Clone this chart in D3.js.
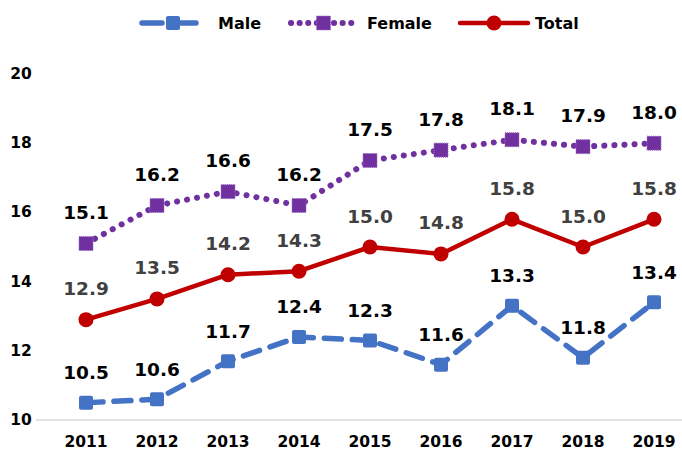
<!DOCTYPE html>
<html><head><meta charset="utf-8">
<script src="https://cdn.jsdelivr.net/npm/d3@7"></script>
<style>body{margin:0;background:#fff}svg{display:block}text{font-family:"DejaVu Sans",sans-serif;font-weight:bold}</style>
</head><body>
<svg id="c" width="682" height="456"></svg>
<script>
const years = ["2011","2012","2013","2014","2015","2016","2017","2018","2019"];
const male = [10.5,10.6,11.7,12.4,12.3,11.6,13.3,11.8,13.4];
const female = [15.1,16.2,16.6,16.2,17.5,17.8,18.1,17.9,18.0];
const total = [12.9,13.5,14.2,14.3,15.0,14.8,15.8,15.0,15.8];
const yTicks = [10,12,14,16,18,20];

const svg = d3.select("#c");
const x = d3.scaleBand().domain(years).range([50.5, 689.5]);
const y = d3.scaleLinear().domain([10,20]).range([420, 74]);
const cx = d => x(d) + x.bandwidth()/2;

svg.append("line").attr("x1",36).attr("x2",682).attr("y1",y(10)).attr("y2",y(10))
  .attr("stroke","#d9d9d9").attr("stroke-width",1.5);

svg.append("g").selectAll("text").data(yTicks).join("text")
  .attr("x",21).attr("y",d=>y(d)).attr("text-anchor","middle").attr("dominant-baseline","central")
  .attr("font-size",15.5).attr("fill","#000").text(d=>d);
svg.append("g").selectAll("text").data(years).join("text")
  .attr("x",d=>cx(d)).attr("y",442).attr("text-anchor","middle").attr("dominant-baseline","central")
  .attr("font-size",15.5).attr("fill","#000").text(d=>d);

const series = [
  {name:"Male", vals:male, color:"#4472C4", dash:"17,11", width:5.5, marker:"square", labelOff:-30, labelColor:"#000"},
  {name:"Female", vals:female, color:"#7030A0", dash:"0.1,10", width:6, marker:"square2", labelOff:-31, labelColor:"#000"},
  {name:"Total", vals:total, color:"#C00000", dash:null, width:4.5, marker:"circle", labelOff:-31, labelColor:"#404040"}
];

function drawMarker(g, s, px, py) {
  if (s.marker==="circle") {
    g.append("circle").attr("cx",px).attr("cy",py).attr("r",7.5).attr("fill",s.color);
  } else if (s.marker==="square") {
    g.append("rect").attr("x",px-7).attr("y",py-7).attr("width",14).attr("height",14).attr("rx",2).attr("fill",s.color);
  } else {
    g.append("rect").attr("x",px-7).attr("y",py-7).attr("width",14).attr("height",14).attr("fill",s.color)
      .attr("stroke","#9b6cc4").attr("stroke-width",1).attr("stroke-dasharray","1,1");
  }
}

series.forEach(s => {
  const line = d3.line().x((d,i)=>cx(years[i])).y(d=>y(d));
  svg.append("path").attr("d",line(s.vals)).attr("fill","none").attr("stroke",s.color)
    .attr("stroke-width",s.width).attr("stroke-linecap","round").attr("stroke-linejoin","round")
    .attr("stroke-dasharray",s.dash);
  const g = svg.append("g");
  s.vals.forEach((v,i)=>drawMarker(g,s,cx(years[i]),y(v)));
  svg.append("g").selectAll("text").data(s.vals).join("text")
    .attr("x",(d,i)=>cx(years[i])).attr("y",d=>y(d)+s.labelOff)
    .attr("text-anchor","middle").attr("dominant-baseline","central")
    .attr("font-size",18.5).attr("fill",s.labelColor).text(d=>d.toFixed(1));
});

const leg = [{s:series[0], x1:142, x2:204, tx:218},{s:series[1], x1:291, x2:356, tx:367},{s:series[2], x1:460, x2:528, tx:535}];
leg.forEach(l => {
  const ly = 23;
  const g = svg.append("g");
  g.append("line").attr("x1",l.x1).attr("x2",l.x2).attr("y1",ly).attr("y2",ly)
    .attr("stroke",l.s.color).attr("stroke-width",l.s.width).attr("stroke-linecap","round")
    .attr("stroke-dasharray",l.s.name==="Male"?"20,14":(l.s.name==="Female"?"0.1,8.5":null));
  drawMarker(g,l.s,(l.x1+l.x2)/2,ly);
  g.append("text").attr("x",l.tx).attr("y",ly).attr("dominant-baseline","central")
    .attr("font-size",16).attr("fill","#000").text(l.s.name);
});
</script>
</body></html>
